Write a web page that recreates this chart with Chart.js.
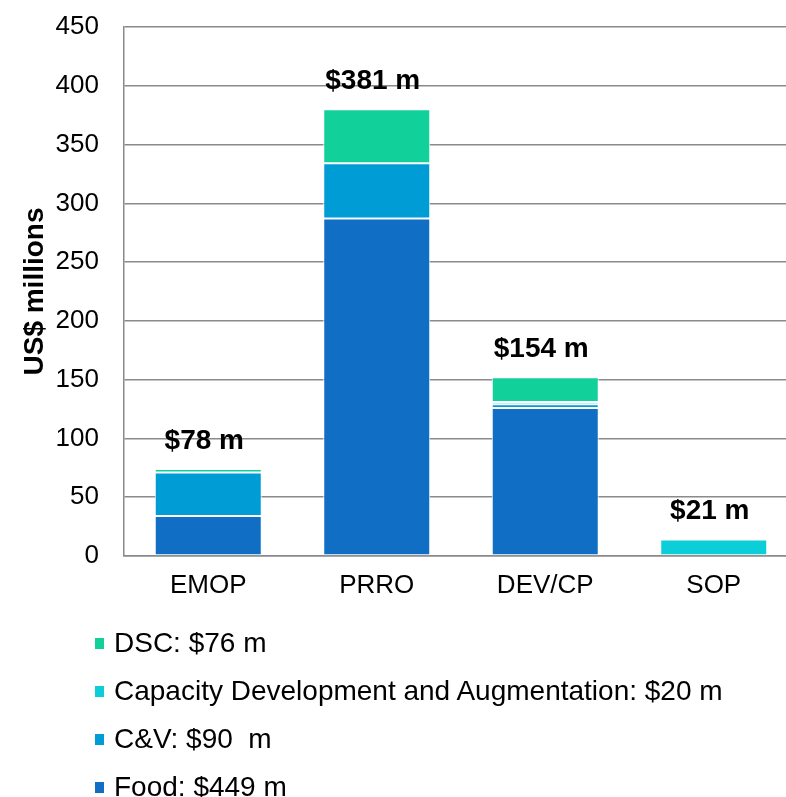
<!DOCTYPE html>
<html>
<head>
<meta charset="utf-8">
<title>Funding by programme category</title>
<script src="https://cdn.jsdelivr.net/npm/chart.js@4"></script>
<style>
    body { margin: 0; background: #fff; overflow: hidden; font-family: "Liberation Sans", Arial, sans-serif; }
    #wrap { position: relative; width: 786px; height: 797px; overflow: hidden; }
    #chart { position: absolute; left: 0; top: 0; }
    #legend { position: absolute; left: 95px; top: 619px; margin: 0; padding: 0; list-style: none; }
    #legend li { height: 48px; line-height: 48px; font-size: 28px; color: #000; white-space: pre; display: flex; align-items: center; }
    #legend span.box { display: inline-block; width: 9px; height: 11px; margin-right: 10px; }
</style>
</head>
<body>
<div id="wrap">
    <canvas id="chart" width="798" height="620"></canvas>
    <ul id="legend"></ul>
</div>
<script>
    // Data
    const categories = ['EMOP', 'PRRO', 'DEV/CP', 'SOP'];
    const food = [34, 287, 126, null];
    const cashVouchers = [37, 47, 3, null];
    const capacityDev = [null, null, 2, 14];
    const dsc = [3, 46, 21, null];
    const totalLabels = ['$78 m', '$381 m', '$154 m', '$21 m'];
    const yTicks = [0, 50, 100, 150, 200, 250, 300, 350, 400, 450];
    const legendNames = {
        food: 'Food: $449 m',
        cv: 'C&V: $90  m',
        cap: 'Capacity Development and Augmentation: $20 m',
        dsc: 'DSC: $76 m'
    };

    const font = '"Liberation Sans", Arial, sans-serif';

    // Totals above each stack
    const totalsPlugin = {
        id: 'totals',
        afterDatasetsDraw(chart) {
            const ctx = chart.ctx;
            const y = chart.scales.y;
            ctx.save();
            ctx.font = 'bold 28px ' + font;
            ctx.fillStyle = '#000';
            ctx.textAlign = 'center';
            ctx.textBaseline = 'middle';
            categories.forEach((c, i) => {
                const sum = [food, cashVouchers, capacityDev, dsc].reduce((s, arr) => s + (arr[i] || 0), 0);
                const x = chart.scales.x.getPixelForValue(i);
                ctx.fillText(totalLabels[i], x - 4, y.getPixelForValue(sum) - 28);
            });
            ctx.restore();
        }
    };

    const bar = (label, data, color) => ({
        label: label,
        data: data,
        backgroundColor: color,
        borderColor: '#ffffff',
        borderWidth: 1,
        borderSkipped: false
    });

    const chart = new Chart(document.getElementById('chart'), {
        type: 'bar',
        data: {
            labels: categories,
            datasets: [
                bar(legendNames.food, food, '#106ec4'),
                bar(legendNames.cv, cashVouchers, '#009cd6'),
                bar(legendNames.cap, capacityDev, '#0bced8'),
                bar(legendNames.dsc, dsc, '#12d09a')
            ]
        },
        options: {
            responsive: false,
            animation: false,
            layout: { padding: { top: 27, right: 0, bottom: 0, left: 0 } },
            datasets: { bar: { categoryPercentage: 1, barPercentage: 0.635 } },
            plugins: {
                legend: { display: false },
                tooltip: { enabled: false }
            },
            scales: {
                x: {
                    stacked: true,
                    grid: { display: false, drawTicks: false },
                    border: { color: '#8a8a8a', width: 1.5 },
                    ticks: { color: '#000', font: { family: font, size: 26 }, padding: 14 },
                    afterFit: (s) => { s.height = 64; }
                },
                y: {
                    stacked: true,
                    min: 0,
                    max: 450,
                    afterBuildTicks: (s) => { s.ticks = yTicks.map(v => ({ value: v })); },
                    grid: { color: '#8a8a8a', lineWidth: 1.5, drawTicks: false },
                    border: { color: '#8a8a8a', width: 1.5 },
                    ticks: { color: '#000', font: { family: font, size: 26 }, padding: 25 },
                    title: {
                        display: true,
                        text: 'US$ millions',
                        color: '#000',
                        font: { family: font, size: 28, weight: 'bold' },
                        padding: { top: 18, bottom: 0 }
                    },
                    afterFit: (s) => {
                        s.width = 124;
                        s.paddingTop = 0;
                        s.paddingBottom = 0;
                    }
                }
            }
        },
        plugins: [totalsPlugin]
    });

    // Legend (top-most series first)
    const legend = document.getElementById('legend');
    chart.data.datasets.slice().reverse().forEach(ds => {
        const li = document.createElement('li');
        const box = document.createElement('span');
        box.className = 'box';
        box.style.background = ds.backgroundColor;
        li.appendChild(box);
        li.appendChild(document.createTextNode(ds.label));
        legend.appendChild(li);
    });
</script>
</body>
</html>
